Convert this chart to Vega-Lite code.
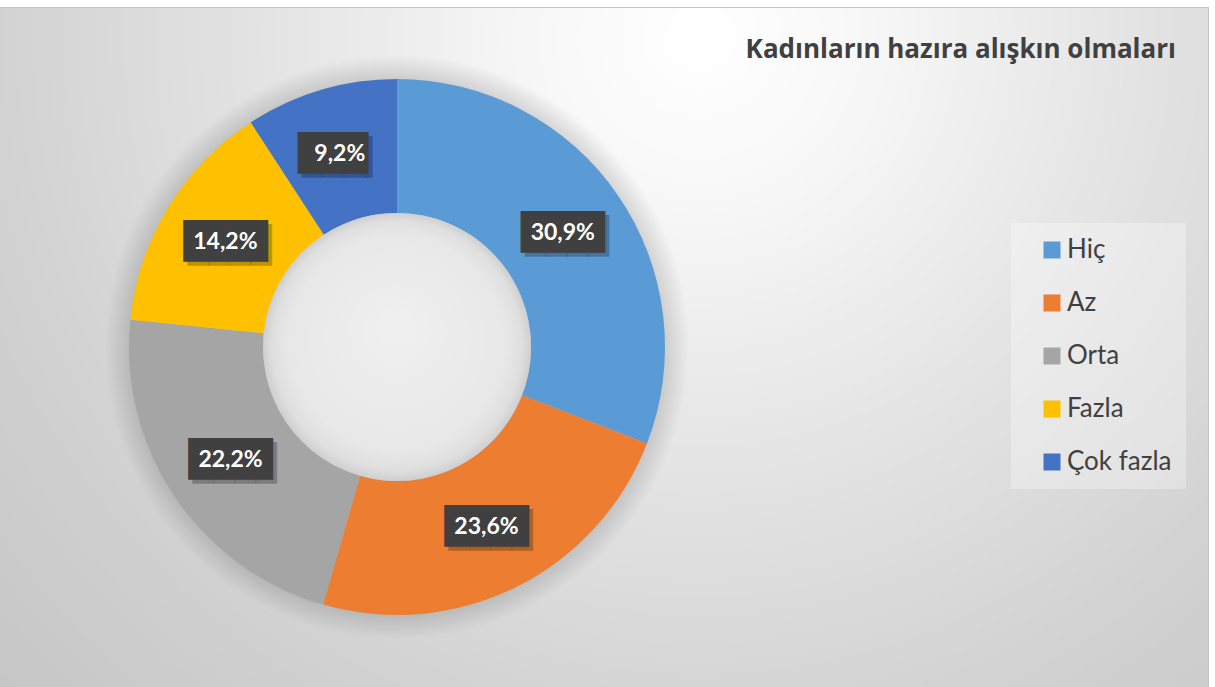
{
  "$schema": "https://vega.github.io/schema/vega-lite/v6.json",
  "width": 1622,
  "height": 680,
  "autosize": {"type": "none"},
  "padding": {"left": -414, "top": 7, "right": 7, "bottom": 0},
  "background": "#ffffff",
  "view": {
    "stroke": "#c4c4c4",
    "strokeWidth": 1,
    "fill": {
      "gradient": "radial",
      "x1": 0.687, "y1": 0.309, "r1": 0,
      "x2": 0.687, "y2": 0.309, "r2": 0.586,
      "stops": [
        {"offset": 0, "color": "#ffffff"},
        {"offset": 0.16, "color": "#f8f8f8"},
        {"offset": 0.42, "color": "#e6e6e6"},
        {"offset": 0.74, "color": "#d2d2d2"},
        {"offset": 1, "color": "#c6c6c6"}
      ]
    }
  },
  "config": {
    "locale": {"number": {"decimal": ",", "thousands": ".", "grouping": [3], "currency": ["", " TL"]}},
    "font": "Lato",
    "legend": {
      "orient": "none",
      "legendX": 1425,
      "legendY": 216,
      "symbolType": "square",
      "symbolSize": 289,
      "symbolStrokeWidth": 0,
      "symbolOpacity": 1,
      "labelFontSize": 26,
      "labelFont": "Lato",
      "labelColor": "#404040",
      "rowPadding": 27,
      "padding": 14,
      "symbolOffset": 14,
      "labelOffset": 2,
      "fillColor": "rgba(255,255,255,0.3)"
    }
  },
  "title": {
    "text": "Kadınların hazıra alışkın olmaları",
    "anchor": "end",
    "frame": "group",
    "dx": -32,
    "dy": 60,
    "fontSize": 26,
    "font": "Open Sans",
    "fontWeight": "bold",
    "color": "#404040"
  },
  "datasets": {
    "main": [
      {"kategori": "Hiç", "pct": 0.309, "o": 1},
      {"kategori": "Az", "pct": 0.236, "o": 2},
      {"kategori": "Orta", "pct": 0.222, "o": 3},
      {"kategori": "Fazla", "pct": 0.142, "o": 4},
      {"kategori": "Çok fazla", "pct": 0.092, "o": 5}
    ]
  },
  "layer": [
    {
      "data": {"values": [{"disk": "shadow"}]},
      "mark": {
        "type": "arc",
        "theta": 6.2832,
        "outerRadius": 292,
        "innerRadius": 0,
        "fill": {
          "gradient": "radial",
          "x1": 0.5, "y1": 0.5, "r1": 0,
          "x2": 0.5, "y2": 0.5, "r2": 0.5,
          "stops": [
            {"offset": 0.9, "color": "rgba(0,0,0,0.16)"},
            {"offset": 1, "color": "rgba(0,0,0,0)"}
          ]
        }
      },
      "encoding": {}
    },
    {
      "data": {"name": "main"},
      "mark": {"type": "arc", "outerRadius": 268, "innerRadius": 134},
      "encoding": {
        "theta": {"field": "pct", "type": "quantitative", "stack": true},
        "order": {"field": "o", "type": "quantitative"},
        "color": {
          "field": "kategori",
          "type": "nominal",
          "scale": {
            "domain": ["Hiç", "Az", "Orta", "Fazla", "Çok fazla"],
            "range": ["#5B9BD5", "#ED7D31", "#A5A5A5", "#FFC000", "#4472C4"]
          },
          "legend": {"title": null}
        }
      }
    },
    {
      "data": {"values": [{"disk": "hole"}]},
      "mark": {
        "type": "arc",
        "theta": 6.2832,
        "outerRadius": 134,
        "innerRadius": 0,
        "fill": {
          "gradient": "radial",
          "x1": 0.5, "y1": 0.42, "r1": 0,
          "x2": 0.5, "y2": 0.5, "r2": 0.5,
          "stops": [
            {"offset": 0, "color": "#f0f0f0"},
            {"offset": 0.8, "color": "#e8e8e8"},
            {"offset": 0.93, "color": "#dfdfdf"},
            {"offset": 1, "color": "#cfcfcf"}
          ]
        }
      },
      "encoding": {}
    },
    {
      "data": {"name": "main"},
      "mark": {"type": "text", "radius": 201, "dx": 4, "dy": 4, "font": "DejaVu Sans Mono", "fontSize": 35, "align": "center", "baseline": "middle", "color": "rgba(0,0,0,0.25)"},
      "encoding": {
        "theta": {"field": "pct", "type": "quantitative", "stack": true},
        "order": {"field": "o", "type": "quantitative"},
        "text": {"condition": {"test": "datum.pct >= 0.1", "value": "████"}, "value": "███▍"}
      }
    },
    {
      "data": {"name": "main"},
      "mark": {"type": "text", "radius": 201, "font": "DejaVu Sans Mono", "fontSize": 35, "align": "center", "baseline": "middle", "color": "#404040"},
      "encoding": {
        "theta": {"field": "pct", "type": "quantitative", "stack": true},
        "order": {"field": "o", "type": "quantitative"},
        "text": {"condition": {"test": "datum.pct >= 0.1", "value": "████"}, "value": "███▍"}
      }
    },
    {
      "data": {"name": "main"},
      "mark": {"type": "text", "radius": 201, "font": "Lato", "fontSize": 23, "fontWeight": "bold", "align": "center", "baseline": "middle", "color": "#ffffff"},
      "encoding": {
        "theta": {"field": "pct", "type": "quantitative", "stack": true},
        "order": {"field": "o", "type": "quantitative"},
        "text": {"field": "pct", "type": "quantitative", "format": ".1%"}
      }
    }
  ]
}
